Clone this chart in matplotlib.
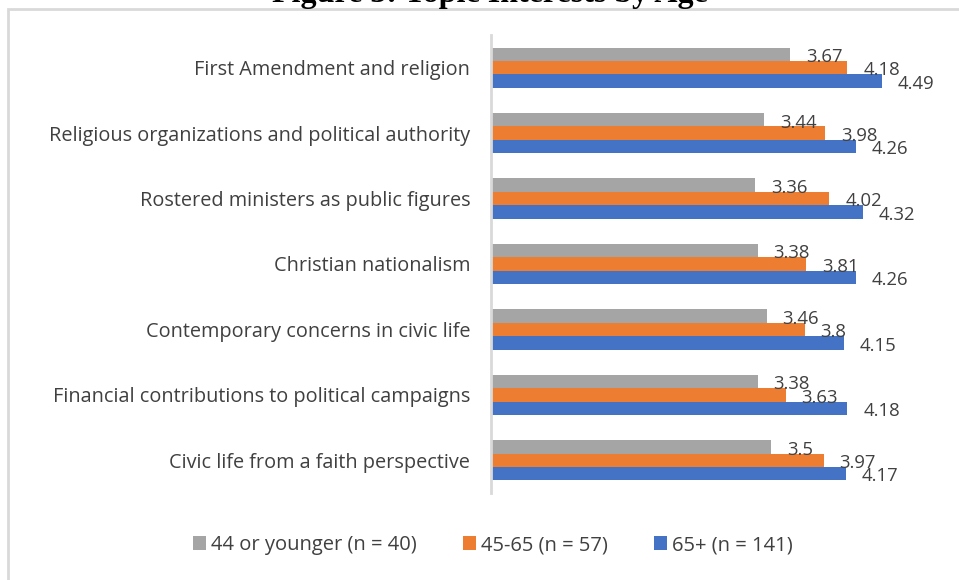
import matplotlib.pyplot as plt
import numpy as np
from matplotlib import rcParams
from matplotlib.patches import Rectangle

rcParams['font.family'] = ['Open Sans', 'DejaVu Sans']

topics = ['First Amendment and religion',
          'Religious organizations and political authority',
          'Rostered ministers as public figures',
          'Christian nationalism',
          'Contemporary concerns in civic life',
          'Financial contributions to political campaigns',
          'Civic life from a faith perspective']
young = [3.67, 3.44, 3.36, 3.38, 3.46, 3.38, 3.5]
middle = [4.18, 3.98, 4.02, 3.81, 3.8, 3.63, 3.97]
older = [4.49, 4.26, 4.32, 4.26, 4.15, 4.18, 4.17]
series_names = ['44 or younger (n = 40)', '45-65 (n = 57)', '65+ (n = 141)']
colors = ['#A5A5A5', '#ED7D31', '#4472C4']
title = 'Figure 3: Topic Interests by Age'

fig = plt.figure(figsize=(9.59, 5.8), dpi=100)
W, H = 959, 580
ax = fig.add_axes([491 / W, 1 - 493 / H, (939 - 491) / W, (493 - 35) / H])

y = np.arange(len(topics))
h = 0.205
for i, (vals, c) in enumerate(zip([young, middle, older], colors)):
    pos = y + (i - 1) * h
    ax.barh(pos, vals, height=h, color=c, label=series_names[i], left=0)
    for p, v in zip(pos, vals):
        ax.annotate(str(v), (v, p), xytext=(11.5, -2), textcoords='offset points',
                    ha='left', va='center', fontsize=13.3, color='#404040')

ax.set_xlim(1, 5)
ax.set_ylim(len(topics) - 0.5, -0.5)
ax.set_yticks(y)
ax.set_yticklabels(topics, fontsize=14.3, color='#404040')
ax.tick_params(axis='y', length=0, pad=15)
ax.set_xticks([])
for s in ['top', 'right', 'bottom']:
    ax.spines[s].set_visible(False)
ax.spines['left'].set_color('#D9D9D9')
ax.spines['left'].set_linewidth(2)

# legend below
leg = fig.legend(loc='center', bbox_to_anchor=(493 / W, 1 - 545 / H), ncol=3,
                 frameon=False, fontsize=14.5, handlelength=0.65, handleheight=0.65,
                 handletextpad=0.25, columnspacing=2.3)
for t in leg.get_texts():
    t.set_color('#404040')

# chart border
fig.patches.append(Rectangle((8 / W, -0.05), 1.0, 1 - 9 / H + 0.05,
                             transform=fig.transFigure, fill=False,
                             edgecolor='#D9D9D9', linewidth=2))

# title, cut off at the top edge as in the source
fig.text(490 / W, 1 - 2 / H, title, ha='center', va='baseline',
         fontsize=23, fontweight='bold', family='Liberation Serif')

fig.savefig('out.png', dpi=100)
